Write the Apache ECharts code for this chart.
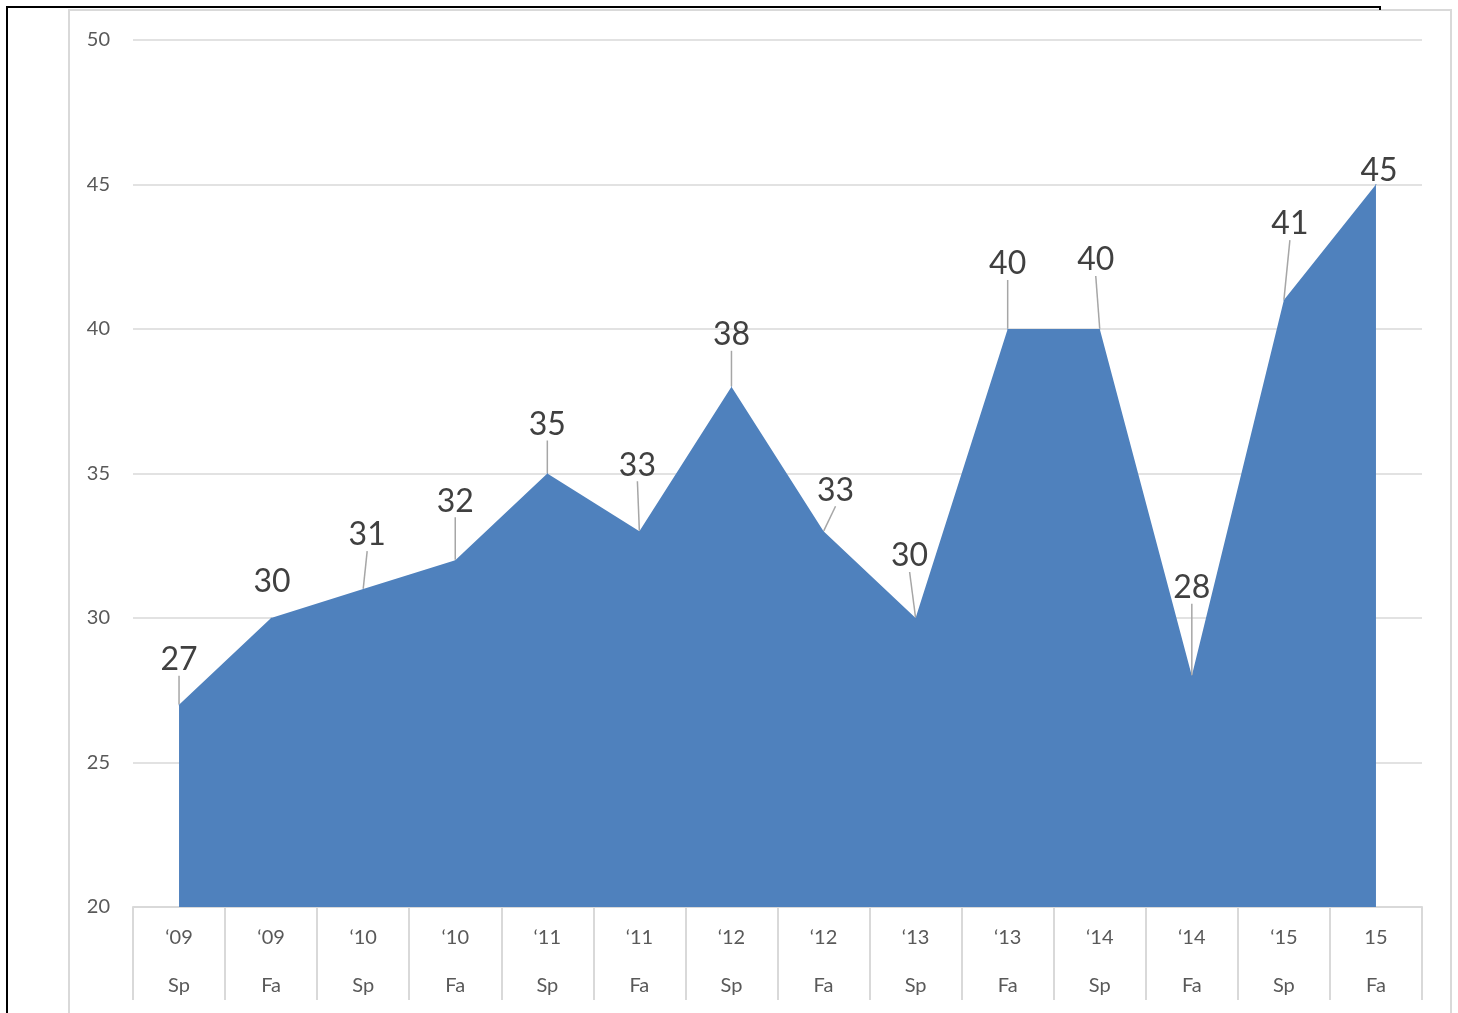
<!DOCTYPE html>
<html>
<head>
<meta charset="utf-8">
<script src="https://cdn.jsdelivr.net/npm/echarts@6/dist/echarts.min.js"></script>
<style>
  html, body { margin: 0; padding: 0; background: #fff; }
  #chart { width: 1458px; height: 1013px; }
</style>
</head>
<body>
<div id="chart"></div>
<script>
// Term labels: year on the first line, season on the second
const years = ['‘09', '‘09', '‘10', '‘10', '‘11', '‘11', '‘12', '‘12', '‘13', '‘13', '‘14', '‘14', '‘15', '15'];
const seasons = ['Sp', 'Fa', 'Sp', 'Fa', 'Sp', 'Fa', 'Sp', 'Fa', 'Sp', 'Fa', 'Sp', 'Fa', 'Sp', 'Fa'];
const values = [27, 30, 31, 32, 35, 33, 38, 33, 30, 40, 40, 28, 41, 45];
const yTicks = [20, 25, 30, 35, 40, 45, 50];

// Value label placement relative to each point (pixels), and whether a leader line is drawn
const labelShift = [
  [0, -45], [1, -36], [4, -54], [0, -59], [0, -49], [-2, -66], [0, -52],
  [12, -41], [-6, -62], [0, -65], [-4, -69], [0, -88], [6, -76], [3, -14]
];
const leader = [true, false, true, true, true, true, true, true, true, true, true, true, true, false];

const categories = years.map((y, i) => y + '\n' + seasons[i]);

const chart = echarts.init(document.getElementById('chart'));
chart.setOption({
  animation: false,
  backgroundColor: '#ffffff',
  grid: { left: 133, right: 36, top: 40, bottom: 106 },
  graphic: [
    { type: 'rect', shape: { x: 69, y: 10, width: 1382, height: 1020 },
      style: { fill: 'none', stroke: '#d9d9d9', lineWidth: 2 }, z: -1 },
    { type: 'polyline', shape: { points: [[7, 1020], [7, 7], [1380, 7], [1380, 10]] },
      style: { fill: 'none', stroke: '#000', lineWidth: 2 }, z: 10 }
  ],
  xAxis: {
    type: 'category',
    data: categories,
    boundaryGap: true,
    axisLine: { show: true, lineStyle: { color: '#d9d9d9', width: 2 } },
    axisTick: { show: true, length: 93, alignWithLabel: false, lineStyle: { color: '#d9d9d9', width: 2 } },
    axisLabel: {
      interval: 0, margin: 7, color: '#595959', fontFamily: 'Lato', fontSize: 20, lineHeight: 48
    }
  },
  yAxis: {
    type: 'value',
    min: yTicks[0],
    max: yTicks[yTicks.length - 1],
    interval: yTicks[1] - yTicks[0],
    axisLine: { show: false },
    axisTick: { show: false },
    axisLabel: { margin: 23, color: '#595959', fontFamily: 'Lato', fontSize: 20 },
    splitLine: { lineStyle: { color: '#d9d9d9', width: 1.5 } }
  },
  series: [{
    type: 'line',
    data: values.map((v, i) => ({
      value: v,
      labelLine: { show: leader[i] }
    })),
    symbol: 'circle',
    symbolSize: 1,
    showSymbol: true,
    itemStyle: { color: '#4f81bd' },
    lineStyle: { color: '#4f81bd', width: 0 },
    areaStyle: { color: '#4f81bd', opacity: 1 },
    label: {
      show: true,
      position: 'inside',
      color: '#404040',
      fontFamily: 'Lato',
      fontSize: 32
    },
    labelLine: { show: true, lineStyle: { color: '#a6a6a6', width: 1.5 } },
    labelLayout: function (p) {
      const s = labelShift[p.dataIndex];
      return { dx: s[0], dy: s[1] };
    }
  }]
});
</script>
</body>
</html>
